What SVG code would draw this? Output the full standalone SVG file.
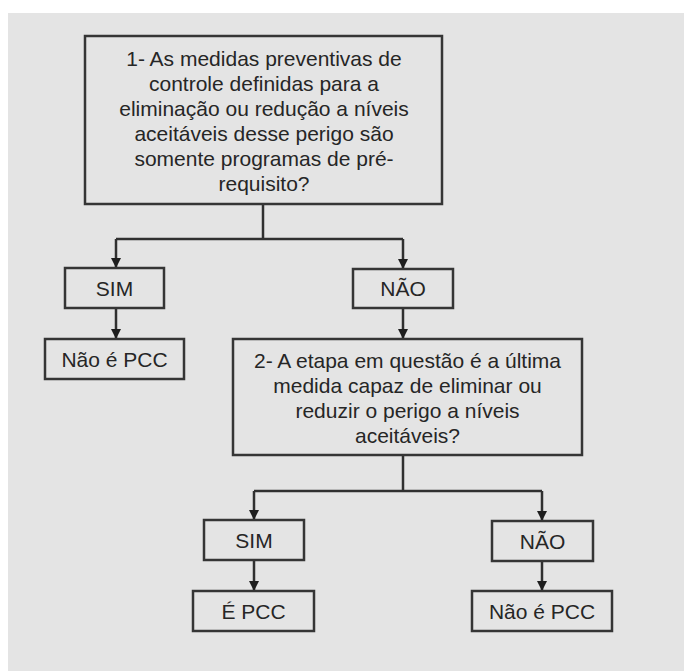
<svg xmlns="http://www.w3.org/2000/svg" width="684" height="671" viewBox="0 0 684 671">
<style>
.box{fill:#e4e4e4;stroke:#353535;stroke-width:2.5}
.t{font-family:"Liberation Sans",Arial,sans-serif;font-size:21px;fill:#262626;text-anchor:middle}
.c{fill:none;stroke:#303030;stroke-width:2.5}
</style>
<defs>
<marker id="arr" viewBox="0 0 10 10" refX="10" refY="5" markerWidth="10" markerHeight="10" markerUnits="userSpaceOnUse" orient="auto">
<path d="M0,0 L10,5 L0,10 Z" fill="#1e1e1e"/>
</marker>
</defs>
<rect x="0" y="0" width="684" height="671" fill="#ffffff"/>
<rect x="8" y="13" width="676" height="658" fill="#e4e4e4"/>

<g id="connectors">
<path class="c" d="M263,204 V239"/>
<path class="c" d="M116,239 H403"/>
<path class="c" d="M116,239 V268" marker-end="url(#arr)"/>
<path class="c" d="M403,239 V269" marker-end="url(#arr)"/>
<path class="c" d="M116,308 V339" marker-end="url(#arr)"/>
<path class="c" d="M403,308 V339" marker-end="url(#arr)"/>
<path class="c" d="M403,455 V491"/>
<path class="c" d="M254,491 H542"/>
<path class="c" d="M254,491 V520" marker-end="url(#arr)"/>
<path class="c" d="M542,491 V521" marker-end="url(#arr)"/>
<path class="c" d="M254,560 V591" marker-end="url(#arr)"/>
<path class="c" d="M542,561 V591" marker-end="url(#arr)"/>
</g>

<g id="q1">
<rect class="box" x="85" y="36" width="357" height="168"/>
<text class="t" x="264" y="66">1- As medidas preventivas de</text>
<text class="t" x="264" y="91">controle definidas para a</text>
<text class="t" x="264" y="116">eliminação ou redução a níveis</text>
<text class="t" x="264" y="141">aceitáveis desse perigo são</text>
<text class="t" x="264" y="166">somente programas de pré-</text>
<text class="t" x="264" y="191">requisito?</text>
</g>

<g id="sim1">
<rect class="box" x="65" y="268" width="99" height="40"/>
<text class="t" x="114.5" y="296">SIM</text>
</g>

<g id="nao1">
<rect class="box" x="353" y="269" width="100" height="39"/>
<text class="t" x="403" y="296">NÃO</text>
</g>

<g id="naopcc1">
<rect class="box" x="45" y="339" width="139" height="40"/>
<text class="t" x="114.5" y="367">Não é PCC</text>
</g>

<g id="q2">
<rect class="box" x="233" y="339" width="349" height="116"/>
<text class="t" x="407.5" y="368">2- A etapa em questão é a última</text>
<text class="t" x="407.5" y="393">medida capaz de eliminar ou</text>
<text class="t" x="407.5" y="418">reduzir o perigo a níveis</text>
<text class="t" x="407.5" y="443">aceitáveis?</text>
</g>

<g id="sim2">
<rect class="box" x="204" y="520" width="100" height="40"/>
<text class="t" x="254" y="548">SIM</text>
</g>

<g id="nao2">
<rect class="box" x="492" y="521" width="101" height="40"/>
<text class="t" x="542.5" y="549">NÃO</text>
</g>

<g id="epcc">
<rect class="box" x="193" y="591" width="121" height="40"/>
<text class="t" x="253.5" y="619">É PCC</text>
</g>

<g id="naopcc2">
<rect class="box" x="472" y="591" width="140" height="40"/>
<text class="t" x="542" y="619">Não é PCC</text>
</g>
</svg>
